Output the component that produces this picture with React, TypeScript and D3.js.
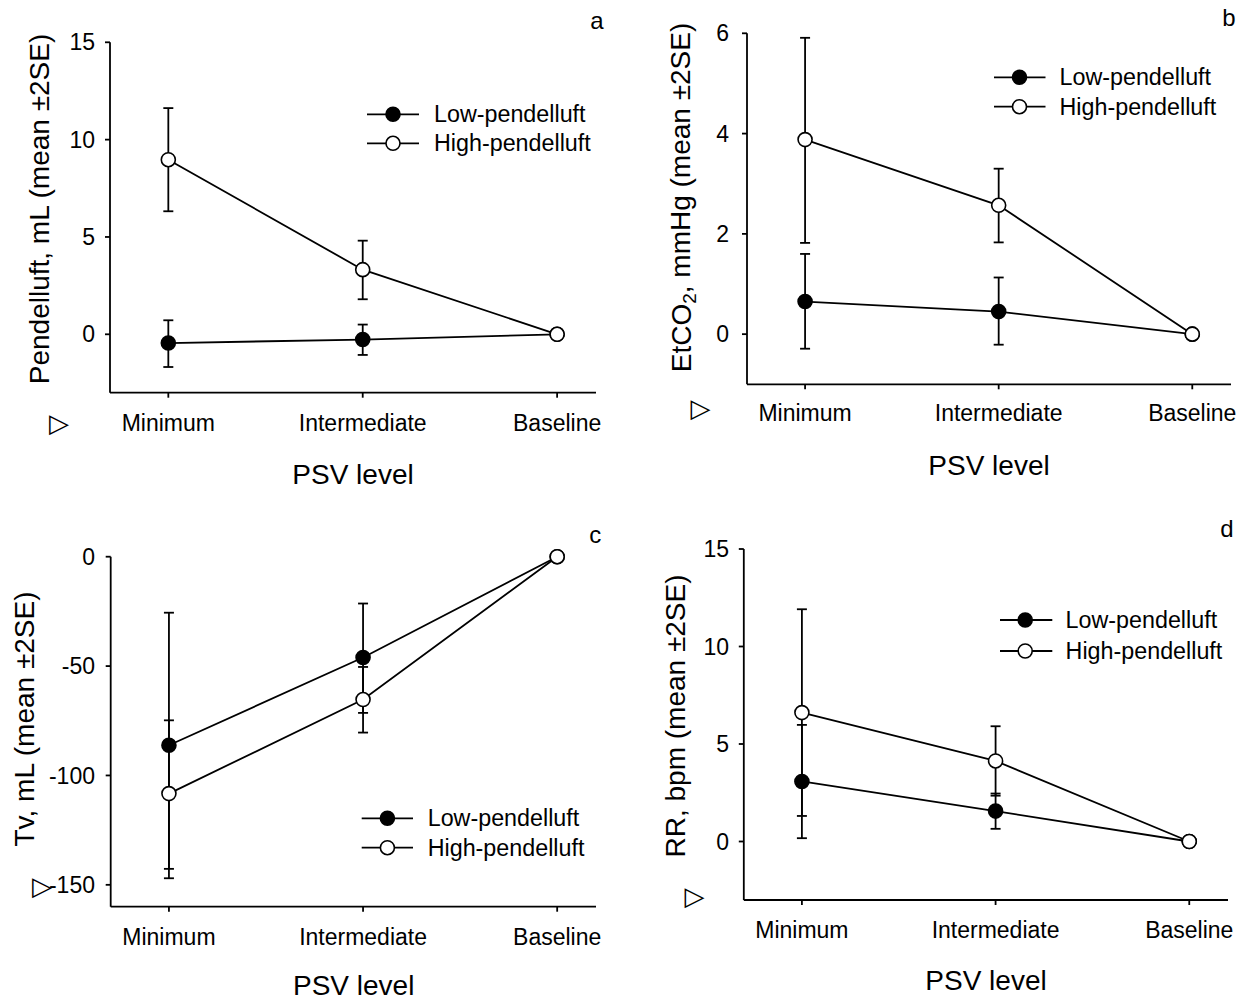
import React from 'react';
import * as d3 from 'd3';

// ---------- data ----------
const categories = ['Minimum', 'Intermediate', 'Baseline'];
const seriesNames = ['Low-pendelluft', 'High-pendelluft'];

// Panel a: Pendelluft, mL
const pendLowMean = [-0.45, -0.27, 0];
const pendLowLo = [-1.68, -1.06, 0];
const pendLowHi = [0.72, 0.5, 0];
const pendHighMean = [8.97, 3.32, 0];
const pendHighLo = [6.32, 1.8, 0];
const pendHighHi = [11.62, 4.81, 0];
const pendTicks = [0, 5, 10, 15];

// Panel b: EtCO2, mmHg
const etco2LowMean = [0.65, 0.45, 0];
const etco2LowLo = [-0.29, -0.21, 0];
const etco2LowHi = [1.6, 1.13, 0];
const etco2HighMean = [3.88, 2.57, 0];
const etco2HighLo = [1.82, 1.83, 0];
const etco2HighHi = [5.91, 3.3, 0];
const etco2Ticks = [0, 2, 4, 6];

// Panel c: Tv, mL
const tvLowMean = [-86.2, -46.1, 0];
const tvLowLo = [-147, -71.4, 0];
const tvLowHi = [-25.6, -21.4, 0];
const tvHighMean = [-108.3, -65.3, 0];
const tvHighLo = [-142.7, -80.4, 0];
const tvHighHi = [-74.8, -50.4, 0];
const tvTicks = [-150, -100, -50, 0];

// Panel d: RR, bpm
const rrLowMean = [3.08, 1.56, 0];
const rrLowLo = [0.17, 0.65, 0];
const rrLowHi = [5.98, 2.46, 0];
const rrHighMean = [6.61, 4.13, 0];
const rrHighLo = [1.31, 2.35, 0];
const rrHighHi = [11.91, 5.91, 0];
const rrTicks = [0, 5, 10, 15];

const FONT = "'Liberation Sans', Arial, sans-serif";

type Series = { mean: number[]; lo: number[]; hi: number[] };
type PanelCfg = {
  letter: string;
  left: number; right: number; top: number; bottom: number;
  yDomain: [number, number];
  ticks: number[];
  low: Series; high: Series;
  title: React.ReactNode;
  titleX: number; titleY: number;
  letterX: number; letterY: number;
  catY: number;
  psvX: number; psvY: number;
  legX1: number; legX2: number; legM: number; legT: number; legY1: number; legY2: number;
  triX: number; triY: number;
  tickLabelX: number;
};

const panels: PanelCfg[] = [
  {
    letter: 'a', left: 110, right: 596, top: 42.3, bottom: 392.7, yDomain: [-3, 15], ticks: pendTicks,
    low: { mean: pendLowMean, lo: pendLowLo, hi: pendLowHi },
    high: { mean: pendHighMean, lo: pendHighLo, hi: pendHighHi },
    title: 'Pendelluft, mL (mean ±2SE)', titleX: 49.4, titleY: 209,
    letterX: 597, letterY: 29, catY: 423, psvX: 353, psvY: 474,
    legX1: 367, legX2: 419, legM: 393, legT: 434, legY1: 114.3, legY2: 143.3,
    triX: 59, triY: 423, tickLabelX: 95,
  },
  {
    letter: 'b', left: 747, right: 1231, top: 33.3, bottom: 384.3, yDomain: [-1, 6], ticks: etco2Ticks,
    low: { mean: etco2LowMean, lo: etco2LowLo, hi: etco2LowHi },
    high: { mean: etco2HighMean, lo: etco2HighLo, hi: etco2HighHi },
    title: (
      <>
        <tspan>EtCO</tspan>
        <tspan fontSize="19" dy="0.3em">2</tspan>
        <tspan dy="-0.21em">, mmHg (mean ±2SE)</tspan>
      </>
    ),
    titleX: 690.6, titleY: 197.5,
    letterX: 1229, letterY: 26, catY: 413, psvX: 989, psvY: 465,
    legX1: 994, legX2: 1045.5, legM: 1019.5, legT: 1059.5, legY1: 77.3, legY2: 106.7,
    triX: 700.6, triY: 408, tickLabelX: 729,
  },
  {
    letter: 'c', left: 110.7, right: 596, top: 556.7, bottom: 906.7, yDomain: [-160, 0], ticks: tvTicks,
    low: { mean: tvLowMean, lo: tvLowLo, hi: tvLowHi },
    high: { mean: tvHighMean, lo: tvHighLo, hi: tvHighHi },
    title: 'Tv, mL (mean ±2SE)', titleX: 33.6, titleY: 719,
    letterX: 595.3, letterY: 543, catY: 936.7, psvX: 353.7, psvY: 985,
    legX1: 361.7, legX2: 413, legM: 387.4, legT: 427.7, legY1: 818.3, legY2: 847.7,
    triX: 42, triY: 886, tickLabelX: 95,
  },
  {
    letter: 'd', left: 743.8, right: 1228, top: 549, bottom: 900, yDomain: [-3, 15], ticks: rrTicks,
    low: { mean: rrLowMean, lo: rrLowLo, hi: rrLowHi },
    high: { mean: rrHighMean, lo: rrHighLo, hi: rrHighHi },
    title: 'RR, bpm (mean ±2SE)', titleX: 684.5, titleY: 716,
    letterX: 1227, letterY: 537, catY: 930, psvX: 986, psvY: 980,
    legX1: 1000, legX2: 1052.3, legM: 1025.2, legT: 1065.6, legY1: 620, legY2: 651,
    triX: 694.6, triY: 896, tickLabelX: 729,
  },
];

const R = 7;
const SW = 1.8;

function Panel({ cfg }: { cfg: PanelCfg }) {
  const x = d3.scaleLinear().domain([0.7, 3.2]).range([cfg.left, cfg.right]);
  const y = d3.scaleLinear().domain(cfg.yDomain).range([cfg.bottom, cfg.top]);
  const line = d3.line<number>().x((_, i) => x(i + 1)).y((d) => y(d));
  const capW = 5;

  const bars = (s: Series, key: string) =>
    s.mean.map((_, i) => {
      if (s.lo[i] === s.hi[i]) return null;
      const cx = x(i + 1);
      return (
        <g key={key + i} stroke="#000" strokeWidth={SW}>
          <line x1={cx} x2={cx} y1={y(s.lo[i])} y2={y(s.hi[i])} />
          <line x1={cx - capW} x2={cx + capW} y1={y(s.lo[i])} y2={y(s.lo[i])} />
          <line x1={cx - capW} x2={cx + capW} y1={y(s.hi[i])} y2={y(s.hi[i])} />
        </g>
      );
    });

  const markers = (s: Series, fill: string, key: string) =>
    s.mean.map((v, i) => (
      <circle key={key + i} cx={x(i + 1)} cy={y(v)} r={R} fill={fill} stroke="#000" strokeWidth={1.6} />
    ));

  return (
    <g fontFamily={FONT}>
      {/* axes */}
      <line x1={cfg.left} x2={cfg.left} y1={cfg.top} y2={cfg.bottom} stroke="#000" strokeWidth={SW} />
      <line x1={cfg.left} x2={cfg.right} y1={cfg.bottom} y2={cfg.bottom} stroke="#000" strokeWidth={SW} />
      {cfg.ticks.map((t) => (
        <g key={'t' + t}>
          <line x1={cfg.left - 5} x2={cfg.left} y1={y(t)} y2={y(t)} stroke="#000" strokeWidth={SW} />
          <text x={cfg.tickLabelX} y={y(t)} dy="0.35em" textAnchor="end" fontSize={23}>
            {t}
          </text>
        </g>
      ))}
      {categories.map((c, i) => (
        <g key={c}>
          <line x1={x(i + 1)} x2={x(i + 1)} y1={cfg.bottom} y2={cfg.bottom + 5} stroke="#000" strokeWidth={SW} />
          <text x={x(i + 1)} y={cfg.catY} dy="0.35em" textAnchor="middle" fontSize={23}>
            {c}
          </text>
        </g>
      ))}
      <text x={cfg.psvX} y={cfg.psvY} dy="0.35em" textAnchor="middle" fontSize={28}>
        PSV level
      </text>
      <text
        transform={`translate(${cfg.titleX},${cfg.titleY}) rotate(-90)`}
        textAnchor="middle"
        fontSize={28}
      >
        {cfg.title}
      </text>
      <text x={cfg.letterX} y={cfg.letterY} textAnchor="middle" fontSize={24}>
        {cfg.letter}
      </text>
      <text x={cfg.triX} y={cfg.triY} dy="0.35em" textAnchor="middle" fontSize={26} fontFamily="'DejaVu Sans'">
        ▷
      </text>

      {/* data */}
      <path d={line(cfg.low.mean) || ''} fill="none" stroke="#000" strokeWidth={SW} />
      <path d={line(cfg.high.mean) || ''} fill="none" stroke="#000" strokeWidth={SW} />
      {bars(cfg.low, 'bl')}
      {bars(cfg.high, 'bh')}
      {markers(cfg.low, '#000', 'ml')}
      {markers(cfg.high, '#fff', 'mh')}

      {/* legend */}
      {[cfg.legY1, cfg.legY2].map((ly, k) => (
        <g key={'leg' + k}>
          <line x1={cfg.legX1} x2={cfg.legX2} y1={ly} y2={ly} stroke="#000" strokeWidth={SW} />
          <circle cx={cfg.legM} cy={ly} r={R} fill={k === 0 ? '#000' : '#fff'} stroke="#000" strokeWidth={1.6} />
          <text x={cfg.legT} y={ly} dy="0.35em" fontSize={23.3}>
            {seriesNames[k]}
          </text>
        </g>
      ))}
    </g>
  );
}

export default function App() {
  return (
    <svg
      width={1254}
      height={1003}
      viewBox="0 0 1254 1003"
      style={{ position: 'absolute', left: 0, top: 0, background: '#fff' }}
    >
      <rect width={1254} height={1003} fill="#fff" />
      {panels.map((p) => (
        <Panel key={p.letter} cfg={p} />
      ))}
    </svg>
  );
}
